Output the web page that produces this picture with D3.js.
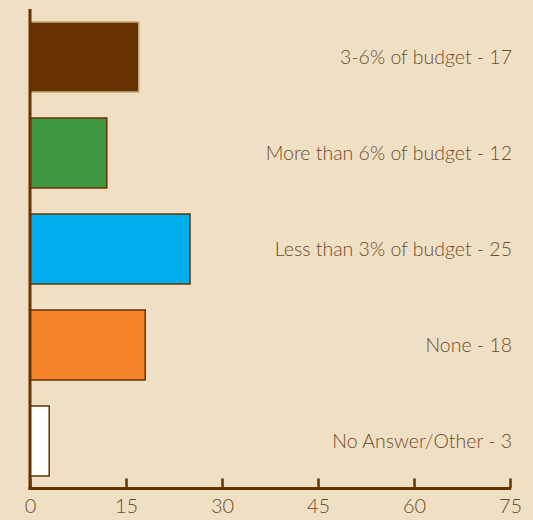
<!DOCTYPE html>
<html>
<head>
<meta charset="utf-8">
<script src="https://d3js.org/d3.v7.min.js"></script>
<style>
  html, body { margin: 0; padding: 0; background: #efe0c5; }
  svg { display: block; }
</style>
</head>
<body>
<svg id="chart" width="533" height="520"></svg>
<script>
// Spending on the item, share of respondents by budget bracket
const categories = ["3-6% of budget", "More than 6% of budget", "Less than 3% of budget", "None", "No Answer/Other"];
const values = [17, 12, 25, 18, 3];
const fills = ["#663300", "#3f973f", "#00adef", "#f6842a", "#ffffff"];
const strokes = ["#c8a77a", "#663300", "#663300", "#663300", "#663300"];
const ticks = [0, 15, 30, 45, 60, 75];

const svg = d3.select("#chart");
const axisColor = "#663300";
const textColor = "#714b27";

const x = d3.scaleLinear().domain([0, 75]).range([30, 510]);
const y = d3.scaleBand().domain(categories).range([9, 489])
  .paddingInner(26 / 96).paddingOuter(13 / 96);

// bars
svg.append("g").selectAll("rect")
  .data(categories)
  .join("rect")
  .attr("x", x(0))
  .attr("y", d => y(d))
  .attr("width", (d, i) => x(values[i]) - x(0))
  .attr("height", y.bandwidth())
  .attr("fill", (d, i) => fills[i])
  .attr("stroke", (d, i) => strokes[i])
  .attr("stroke-width", 1.5);

// category labels, right aligned
svg.append("g").selectAll("text")
  .data(categories)
  .join("text")
  .attr("x", 512)
  .attr("y", d => y(d) + y.bandwidth() / 2 + 2)
  .attr("text-anchor", "end")
  .attr("dominant-baseline", "middle")
  .attr("fill", textColor)
  .style("font-family", "Lato, 'Noto Sans', sans-serif")
  .style("font-weight", 300)
  .style("font-size", "19.5px")
  .text((d, i) => `${d} - ${values[i]}`);

// x axis with upward ticks
const xAxis = d3.axisBottom(x).tickValues(ticks).tickSize(-10).tickPadding(20);
const gx = svg.append("g").attr("transform", "translate(0,488.5)").call(xAxis);
gx.select(".domain").attr("stroke", axisColor).attr("stroke-width", 3).attr("d", `M${x(0) - 1.5},0H${x(75) + 1}`);
gx.selectAll(".tick line").attr("stroke", axisColor).attr("stroke-width", 2.5);
gx.selectAll(".tick text")
  .attr("fill", textColor)
  .attr("dy", "0.2em")
  .style("font-family", "Lato, 'Noto Sans', sans-serif")
  .style("font-weight", 300)
  .style("font-size", "20px");

// vertical axis line
svg.append("line")
  .attr("x1", 30).attr("x2", 30)
  .attr("y1", 9).attr("y2", 490)
  .attr("stroke", axisColor)
  .attr("stroke-width", 3);
</script>
</body>
</html>
